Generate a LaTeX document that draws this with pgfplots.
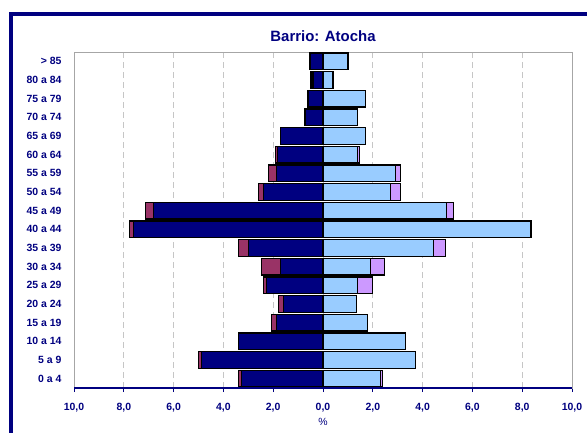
\documentclass[border=0pt]{standalone}
\usepackage{fontspec}
\setmainfont{Liberation Sans}
\usepackage{pgfplots}
\usepackage{pgfplotstable}
\pgfplotsset{compat=1.18}

\definecolor{navyx}{HTML}{000080}
\definecolor{maroonx}{HTML}{993366}
\definecolor{skyx}{HTML}{99CCFF}
\definecolor{lilacx}{HTML}{CC99FF}

% age groups, bottom (0) to top (17); males negative
% mnat = males national, mtot = males total, fnat / ftot likewise
\pgfplotstableread{
idx mnat mtot fnat ftot
0  -3.28 -3.40 2.32 2.40
1  -4.88 -5.00 3.72 3.72
2  -3.40 -3.40 3.32 3.32
3  -1.88 -2.08 1.80 1.80
4  -1.60 -1.80 1.36 1.36
5  -2.28 -2.40 1.40 2.00
6  -1.72 -2.48 1.92 2.48
7  -3.00 -3.40 4.44 4.92
8  -7.60 -7.76 8.32 8.36
9  -6.80 -7.12 4.96 5.24
10 -2.40 -2.60 2.72 3.12
11 -1.88 -2.20 2.92 3.12
12 -1.84 -1.92 1.40 1.48
13 -1.72 -1.72 1.72 1.72
14 -0.72 -0.72 1.40 1.40
15 -0.60 -0.60 1.72 1.72
16 -0.40 -0.48 0.40 0.40
17 -0.52 -0.52 1.00 1.00
}\piramide

\begin{document}
\begin{tikzpicture}
\useasboundingbox (0,0) rectangle (587bp,-433bp);
% marco
\draw[navyx, line width=3.5bp] (11bp,-445bp) -- (11bp,-14bp) -- (600bp,-14bp);
\node[navyx, font=\fontsize{15}{18}\selectfont\bfseries] at (323bp,-36bp) {Barrio: Atocha};

\begin{axis}[
  at={(74bp,-388bp)}, anchor=south west,
  scale only axis, width=498bp, height=336bp,
  xmin=-10, xmax=10, ymin=-0.5, ymax=17.5,
  xtick={-10,-8,...,10},
  xticklabels={{10,0},{8,0},{6,0},{4,0},{2,0},{0,0},{2,0},{4,0},{6,0},{8,0},{10,0}},
  ytick={0,...,17},
  yticklabels={0 a 4,5 a 9,10 a 14,15 a 19,20 a 24,25 a 29,30 a 34,35 a 39,40 a 44,45 a 49,50 a 54,55 a 59,60 a 64,65 a 69,70 a 74,75 a 79,80 a 84,> 85},
  ticklabel style={navyx, font=\fontsize{10.5}{12}\selectfont\bfseries},
  xtick pos=bottom, tick align=outside,
  xtick style={navyx, line width=1bp}, major tick length=4bp,
  ytick style={draw=none},
  yticklabel style={xshift=-5bp},
  xticklabel style={yshift=-8bp},
  xmajorgrids,
  major grid style={gray!45, line width=0.8bp, dash pattern=on 6bp off 4bp},
  axis line style={gray!70, line width=1bp},
  xlabel={\%},
  xlabel style={navyx, font=\fontsize{10.5}{12}\selectfont, yshift=1bp},
  xbar, bar width=0.9, bar shift=0pt,
  every axis plot/.append style={draw=black, line width=1.2bp},
]
\addplot[fill=maroonx] table[x=mtot, y=idx] {\piramide};
\addplot[fill=navyx] table[x=mnat, y=idx] {\piramide};
\addplot[fill=lilacx] table[x=ftot, y=idx] {\piramide};
\addplot[fill=skyx] table[x=fnat, y=idx] {\piramide};
\draw[navyx, line width=1.8bp] (axis cs:-10,-0.5) -- (axis cs:10,-0.5);
\end{axis}
\end{tikzpicture}
\end{document}
